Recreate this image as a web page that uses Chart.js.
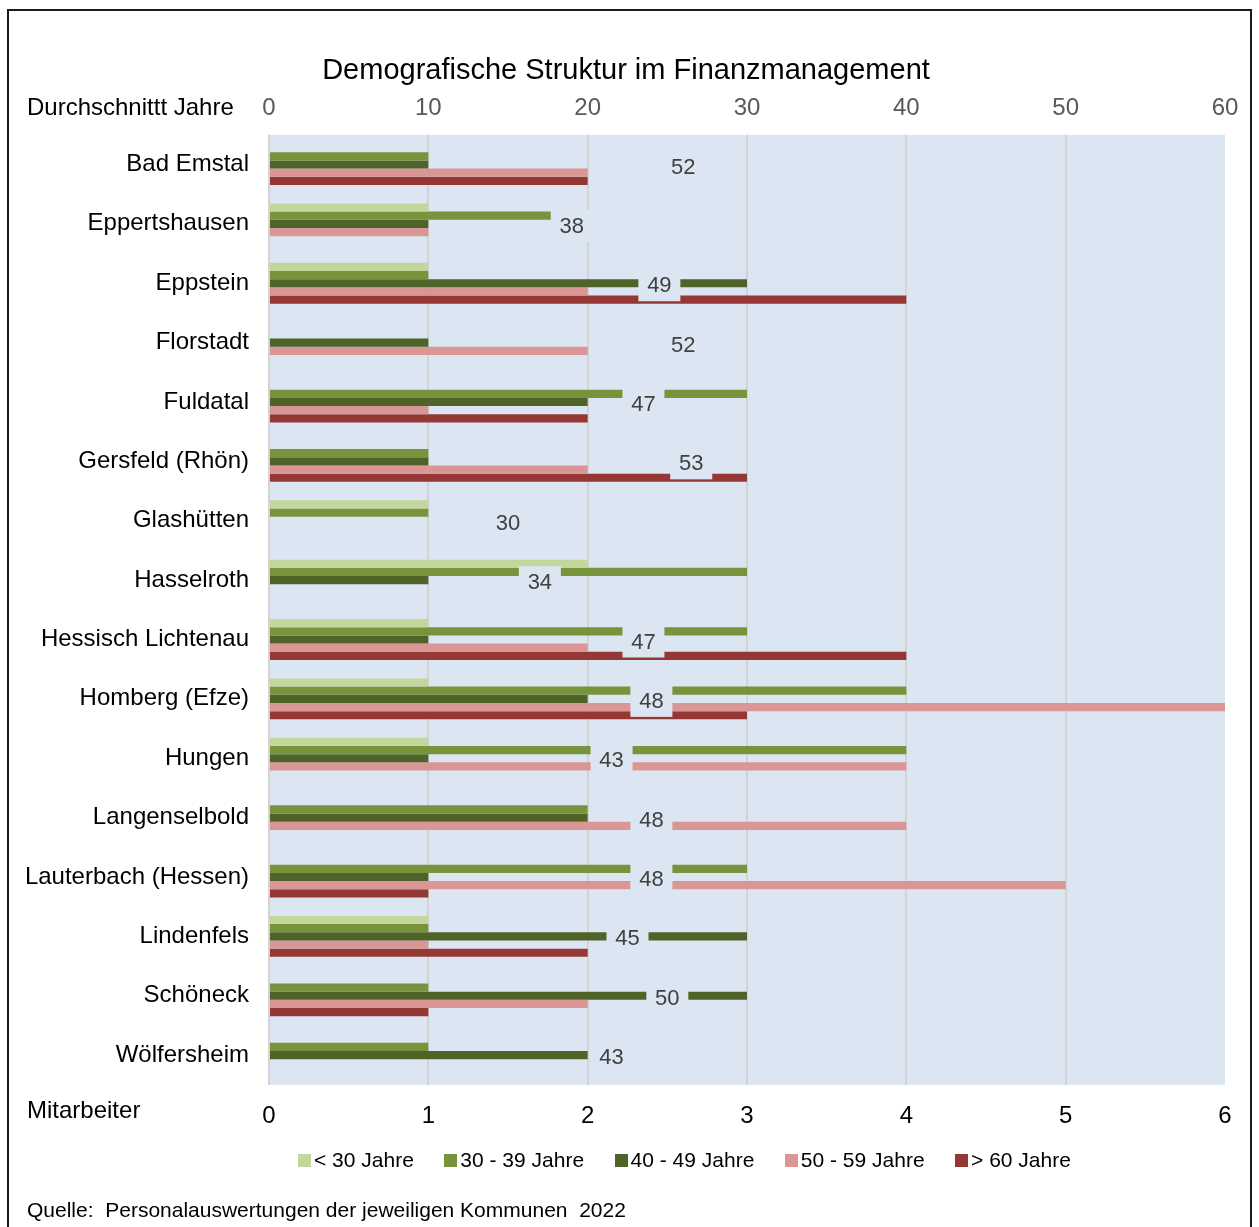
<!DOCTYPE html>
<html lang="de">
<head>
<meta charset="utf-8">
<title>Demografische Struktur im Finanzmanagement</title>
<script src="https://cdn.jsdelivr.net/npm/chart.js@4.4.1/dist/chart.umd.min.js"></script>
<style>
  html, body { margin: 0; padding: 0; background: #fff; overflow: hidden; }
  body { width: 1259px; height: 1227px; position: relative; font-family: "Liberation Sans", Arial, sans-serif; }
  #rahmen { position: absolute; left: 7px; top: 9px; width: 1245px; height: 1260px; border: 2px solid #1a1a1a; box-sizing: border-box; }
  #grafico { position: absolute; left: 0; top: 0; }
  #legende { position: absolute; left: 298px; top: 1148px; display: flex; gap: 30.5px; font-size: 21px; color: #000; line-height: 24px; white-space: nowrap; }
  .eintrag { display: flex; align-items: center; }
  .kasten { width: 13px; height: 13px; margin-right: 3px; }
</style>
</head>
<body>
<div id="rahmen"></div>
<canvas id="grafico" width="1259" height="1227"></canvas>
<div id="legende"></div>
<script>
// Anzahl Mitarbeiter je Altersgruppe und Kommune
const gemeinden = ['Bad Emstal', 'Eppertshausen', 'Eppstein', 'Florstadt', 'Fuldatal', 'Gersfeld (Rhön)',
  'Glashütten', 'Hasselroth', 'Hessisch Lichtenau', 'Homberg (Efze)', 'Hungen', 'Langenselbold',
  'Lauterbach (Hessen)', 'Lindenfels', 'Schöneck', 'Wölfersheim'];
const unter30    = [0, 1, 1, 0, 0, 0, 1, 2, 1, 1, 1, 0, 0, 1, 0, 0];
const von30bis39 = [1, 2, 1, 0, 3, 1, 1, 3, 3, 4, 4, 2, 3, 1, 1, 1];
const von40bis49 = [1, 1, 3, 1, 2, 1, 0, 1, 1, 2, 1, 2, 1, 3, 3, 2];
const von50bis59 = [2, 1, 2, 2, 1, 2, 0, 0, 2, 6, 4, 4, 5, 1, 2, 0];
const ueber60    = [2, 0, 4, 0, 2, 3, 0, 0, 4, 3, 0, 0, 1, 2, 1, 0];
// Durchschnittsalter (obere Achse)
const durchschnittAlter = [52, 38, 49, 52, 47, 53, 30, 34, 47, 48, 43, 48, 48, 45, 50, 43];

const altersgruppen = ['< 30 Jahre', '30 - 39 Jahre', '40 - 49 Jahre', '50 - 59 Jahre', '> 60 Jahre'];
const farben = ['#c3d69b', '#77933c', '#4f6228', '#d99694', '#953735'];
const ticksMitarbeiter = [0, 1, 2, 3, 4, 5, 6];
const ticksJahre = [0, 10, 20, 30, 40, 50, 60];

const schrift = '"Liberation Sans", Arial, sans-serif';
const hintergrund = '#dce6f2';

const werteProGruppe = [unter30, von30bis39, von40bis49, von50bis59, ueber60];

const datensaetze = altersgruppen.map((gruppe, i) => ({
  label: gruppe,
  data: werteProGruppe[i],
  backgroundColor: farben[i],
  xAxisID: 'x',
  categoryPercentage: 0.69,
  barPercentage: 1
}));

// unsichtbarer Balken auf der oberen Achse, nur fuer die Beschriftung
datensaetze.push({
  label: 'Durchschnitt Jahre',
  data: durchschnittAlter,
  xAxisID: 'x2',
  backgroundColor: 'rgba(0,0,0,0)',
  grouped: false,
  istDurchschnitt: true
});

const flaeche = {
  id: 'flaeche',
  beforeDraw(chart) {
    const { ctx, chartArea: a } = chart;
    ctx.save();
    ctx.fillStyle = hintergrund;
    ctx.fillRect(a.left, a.top, a.right - a.left, a.bottom - a.top);
    ctx.restore();
  }
};

const etiketten = {
  id: 'etiketten',
  afterDatasetsDraw(chart) {
    const idx = chart.data.datasets.findIndex(d => d.istDurchschnitt);
    const meta = chart.getDatasetMeta(idx);
    const ctx = chart.ctx;
    ctx.save();
    ctx.font = '22px ' + schrift;
    ctx.textAlign = 'center';
    ctx.textBaseline = 'middle';
    meta.data.forEach((balken, i) => {
      const cx = (balken.x + balken.base) / 2;
      const cy = balken.y + 3;
      ctx.fillStyle = hintergrund;
      ctx.fillRect(cx - 21, cy - 17, 42, 32);
      ctx.fillStyle = '#404040';
      ctx.fillText(String(durchschnittAlter[i]), cx, cy);
    });
    ctx.restore();
  }
};

const achsenTexte = {
  id: 'achsenTexte',
  afterDraw(chart) {
    const { ctx, chartArea } = chart;
    ctx.save();
    ctx.font = '24px ' + schrift;
    ctx.fillStyle = '#000';
    ctx.textAlign = 'left';
    ctx.textBaseline = 'middle';
    ctx.fillText('Durchschnittt Jahre', 27, chartArea.top - 26);
    ctx.fillText('Mitarbeiter', 27, chartArea.bottom + 27);
    ctx.restore();
  }
};

const grafik = new Chart(document.getElementById('grafico'), {
  type: 'bar',
  data: { labels: gemeinden, datasets: datensaetze },
  options: {
    indexAxis: 'y',
    responsive: false,
    animation: false,
    layout: { padding: { left: 27, right: 34, top: 0, bottom: 0 } },
    plugins: {
      legend: { display: false },
      tooltip: { enabled: false },
      title: {
        display: true,
        text: 'Demografische Struktur im Finanzmanagement',
        color: '#000',
        font: { family: schrift, size: 29, weight: 'normal' },
        padding: { top: 54, bottom: 0 }
      },
      subtitle: {
        display: true,
        position: 'bottom',
        align: 'start',
        text: 'Quelle:  Personalauswertungen der jeweiligen Kommunen  2022',
        color: '#000',
        font: { family: schrift, size: 21, weight: 'normal' },
        padding: { top: 64, bottom: 3 }
      }
    },
    scales: {
      y: {
        grid: { display: false, drawTicks: false },
        border: { display: false },
        ticks: { color: '#000', font: { family: schrift, size: 24 }, padding: 20 },
        afterFit: s => { s.width = 242; }
      },
      x: {
        position: 'bottom',
        min: ticksMitarbeiter[0],
        max: ticksMitarbeiter[ticksMitarbeiter.length - 1],
        ticks: { stepSize: ticksMitarbeiter[1] - ticksMitarbeiter[0], color: '#000', font: { family: schrift, size: 24 }, padding: 17 },
        grid: {
          color: c => (c.tick && c.tick.value === ticksMitarbeiter[ticksMitarbeiter.length - 1]) ? 'rgba(0,0,0,0)' : '#d3d3d3',
          lineWidth: 2,
          drawTicks: false
        },
        border: { display: false },
        afterFit: s => { s.height = 50; }
      },
      x2: {
        position: 'top',
        min: ticksJahre[0],
        max: ticksJahre[ticksJahre.length - 1],
        ticks: { stepSize: ticksJahre[1] - ticksJahre[0], color: '#595959', font: { family: schrift, size: 24 }, padding: 12 },
        grid: { display: false, drawTicks: false },
        border: { display: false },
        afterFit: s => { s.height = 46; }
      }
    }
  },
  plugins: [flaeche, etiketten, achsenTexte]
});

// Legende als HTML, aus den Datensaetzen erzeugt
const legende = document.getElementById('legende');
grafik.data.datasets.filter(d => !d.istDurchschnitt).forEach(d => {
  const eintrag = document.createElement('span');
  eintrag.className = 'eintrag';
  const kasten = document.createElement('span');
  kasten.className = 'kasten';
  kasten.style.background = d.backgroundColor;
  eintrag.appendChild(kasten);
  eintrag.appendChild(document.createTextNode(d.label));
  legende.appendChild(eintrag);
});
</script>
</body>
</html>
